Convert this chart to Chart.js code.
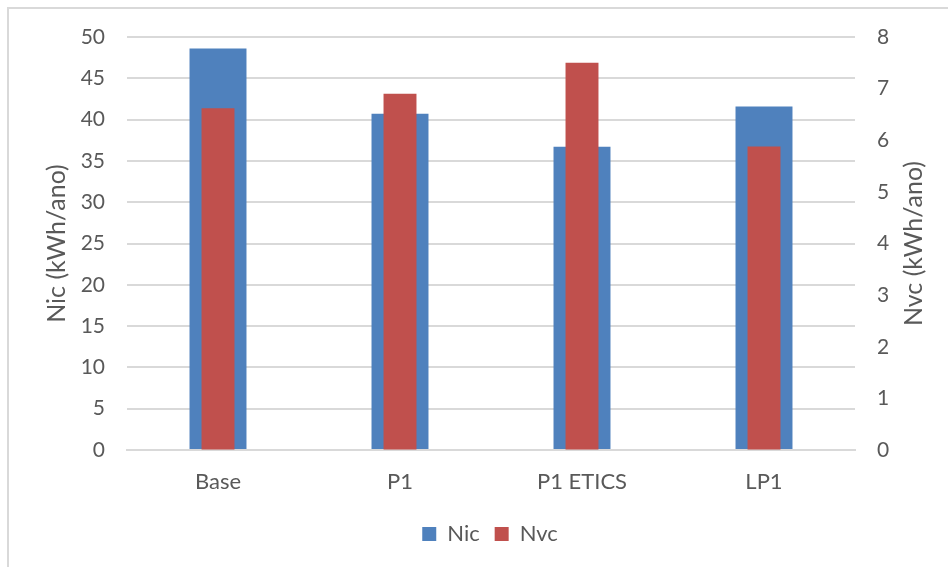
<!DOCTYPE html>
<html>
<head>
<meta charset="utf-8">
<script src="https://cdn.jsdelivr.net/npm/chart.js@4.4.1/dist/chart.umd.min.js"></script>
<style>
  html,body{margin:0;padding:0;background:#fff;overflow:hidden;}
  #wrap{position:relative;width:948px;height:567px;}
  #frame{position:absolute;left:7px;top:7px;width:980px;height:600px;border:2px solid #d9d9d9;box-sizing:border-box;}
  #chart{position:absolute;left:0;top:0;}
</style>
</head>
<body>
<div id="wrap">
  <div id="frame"></div>
  <canvas id="chart" width="948" height="567"></canvas>
</div>
<script>
/* ── data ── */
var categories = ['Base', 'P1', 'P1 ETICS', 'LP1'];
var nicValues  = [48.6, 40.7, 36.7, 41.6];   // kWh/ano, left axis
var nvcValues  = [6.62, 6.9, 7.5, 5.88];     // kWh/ano, right axis
var leftTicks  = [0, 50, 5];                 // min, max, step
var rightTicks = [0, 8, 1];

var FONT = 'Lato, "Open Sans", sans-serif';
var TXT = '#595959';
var GRID = '#d9d9d9';

// right axis title reads bottom-to-top like the left one
var rightTitle = {
  id: 'rightTitle',
  afterDraw: function(chart){
    var a = chart.chartArea, ctx = chart.ctx;
    ctx.save();
    ctx.translate(914, (a.top + a.bottom) / 2);
    ctx.rotate(-Math.PI / 2);
    ctx.fillStyle = TXT;
    ctx.font = '25px ' + FONT;
    ctx.textAlign = 'center';
    ctx.textBaseline = 'middle';
    ctx.fillText('Nvc (kWh/ano)', 0, 0);
    ctx.restore();
  }
};

// nudge the legend right, it sits off-centre in the original
var legendShift = {
  id: 'legendShift',
  afterLayout: function(chart){
    if(chart.legend){ chart.legend.left += 16; chart.legend.right += 16; }
  }
};

new Chart(document.getElementById('chart'), {
  type: 'bar',
  data: {
    labels: categories,
    datasets: [{
      label: 'Nic',
      data: nicValues,
      yAxisID: 'y',
      backgroundColor: '#4f81bd',
      barPercentage: 0.313,
      categoryPercentage: 1,
      grouped: false,
      order: 1
    }, {
      label: 'Nvc',
      data: nvcValues,
      yAxisID: 'y2',
      backgroundColor: '#c0504d',
      barPercentage: 0.181,
      categoryPercentage: 1,
      grouped: false,
      order: 0
    }]
  },
  options: {
    responsive: false,
    animation: false,
    layout: {padding: {left: 0, right: 0, top: 37, bottom: 12}},
    plugins: {
      legend: {
        position: 'bottom',
        labels: {
          color: TXT, font: {family: FONT, size: 22},
          boxWidth: 14, boxHeight: 14, padding: 15,
          sort: function(a, b){ return a.datasetIndex - b.datasetIndex; }
        }
      },
      tooltip: {enabled: false}
    },
    scales: {
      x: {
        grid: {display: false, drawTicks: false},
        border: {display: true, color: GRID, width: 2},
        ticks: {color: TXT, font: {family: FONT, size: 22}, padding: 19},
        afterFit: function(s){ s.height = 58; }
      },
      y: {
        position: 'left',
        min: leftTicks[0], max: leftTicks[1],
        ticks: {stepSize: leftTicks[2], color: TXT, font: {family: FONT, size: 21}, padding: 22},
        grid: {color: GRID, lineWidth: 2, drawTicks: false},
        border: {display: false},
        title: {display: true, text: 'Nic (kWh/ano)', color: TXT, font: {family: FONT, size: 25}, padding: {top: 42, bottom: 0}},
        afterFit: function(s){ s.width = 127; }
      },
      y2: {
        position: 'right',
        min: rightTicks[0], max: rightTicks[1],
        ticks: {stepSize: rightTicks[2], color: TXT, font: {family: FONT, size: 21}, padding: 22},
        grid: {drawOnChartArea: false, drawTicks: false},
        border: {display: false},
        afterFit: function(s){ s.width = 93; }
      }
    }
  },
  plugins: [rightTitle, legendShift]
});
</script>
</body>
</html>
